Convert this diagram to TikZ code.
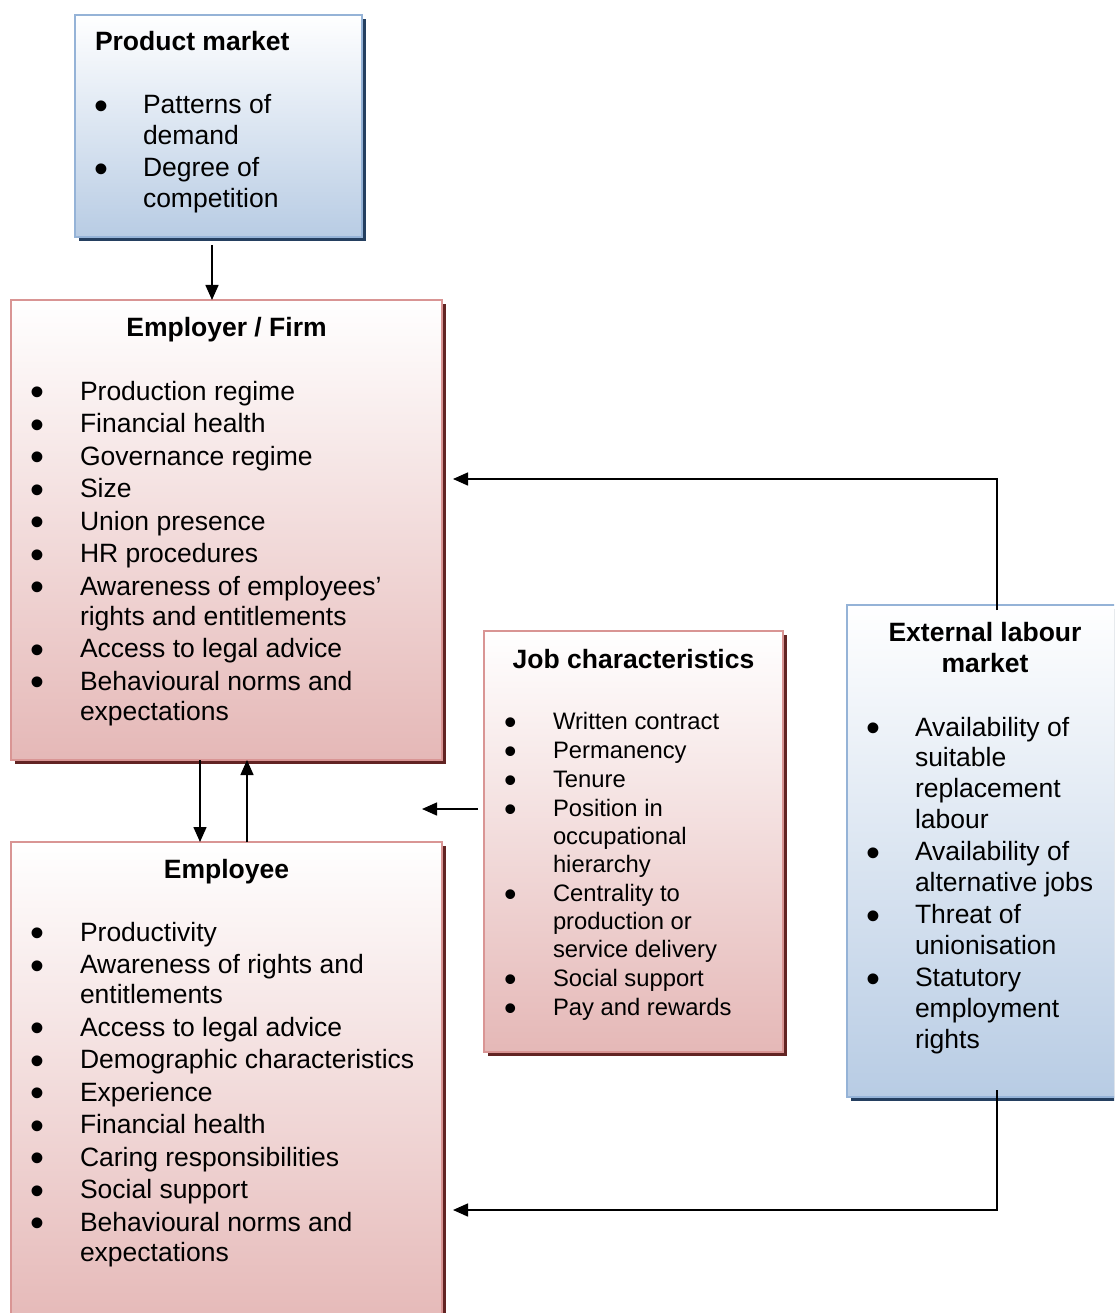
\documentclass[tikz,border=0pt]{standalone}
\usepackage{fontspec}
\setmainfont{Liberation Sans}
\usepackage{array}
\usepackage{graphicx}
\usetikzlibrary{shadows,arrows.meta}
\definecolor{redbot}{HTML}{E5B8B7}
\definecolor{redline}{HTML}{D99594}
\definecolor{redshadow}{HTML}{622423}
\definecolor{bluebot}{HTML}{B8CCE4}
\definecolor{blueline}{HTML}{95B3D7}
\definecolor{blueshadow}{HTML}{243F60}
\newcommand\bigf{\fontsize{26.5}{30.3}\selectfont}
\newcommand\extf{\fontsize{26.5}{30.8}\selectfont}
\newcommand\jobf{\fontsize{23.8}{28}\selectfont}
\newcommand\bul{\hspace*{-0.07em}\smash{\raisebox{-0.21em}{\scalebox{1.5}{\textbullet}}}}
\begin{document}
\begin{tikzpicture}[x=1pt,y=-1pt,
  redbox/.style={draw=redline, line width=2pt, top color=white, bottom color=redbot,
    drop shadow={shadow xshift=4pt, shadow yshift=-4pt, fill=redshadow, opacity=1},
    inner sep=0, outer sep=0},
  bluebox/.style={draw=blueline, line width=2pt, top color=white, bottom color=bluebot,
    drop shadow={shadow xshift=4pt, shadow yshift=-4pt, fill=blueshadow, opacity=1},
    inner sep=0, outer sep=0},
  txt/.style={inner sep=0, outer sep=0, anchor=base west},
  ttl/.style={inner sep=0, outer sep=0, anchor=base, font=\bigf\bfseries, align=center},
  arr/.style={line width=1.5pt, -{Triangle[width=13pt,length=15pt]}}
]
\useasboundingbox (0,0) rectangle (1114,1313);
\clip (0,0) rectangle (1114,1313);

% boxes
\node[bluebox, minimum width=287pt, minimum height=222pt] (prod) at (218.5,126) {};
\node[redbox, minimum width=431pt, minimum height=460pt] (emp) at (226.5,530) {};
\node[redbox, minimum width=431pt, minimum height=488pt] (empl) at (226.5,1086) {};
\node[redbox, minimum width=299pt, minimum height=421pt] (job) at (633.5,841.5) {};
\node[bluebox, minimum width=283pt, minimum height=492pt] (ext) at (988.5,851) {};

% product market
\node[txt, font=\bigf\bfseries] (prodt) at (95,51) {Product market};
\node[txt] (prodl) at (96.4,114) {\bigf\begin{tabular}[t]{@{}p{46.6pt}@{}l@{}}
\bul & Patterns of\\ & demand\\[2.2pt]
\bul & Degree of\\ & competition
\end{tabular}};

% employer
\node[ttl] (empt) at (226.5,336) {Employer / Firm};
\node[txt] (empli) at (32.4,400) {\bigf\begin{tabular}[t]{@{}p{47.6pt}@{}l@{}}
\bul & Production regime\\[2.2pt]
\bul & Financial health\\[2.2pt]
\bul & Governance regime\\[2.2pt]
\bul & Size\\[2.2pt]
\bul & Union presence\\[2.2pt]
\bul & HR procedures\\[2.2pt]
\bul & Awareness of employees’\\ & rights and entitlements\\[2.2pt]
\bul & Access to legal advice\\[2.2pt]
\bul & Behavioural norms and\\ & expectations
\end{tabular}};

% employee
\node[ttl] (emplt) at (226.5,878) {Employee};
\node[txt] (emplli) at (32.4,941) {\bigf\begin{tabular}[t]{@{}p{47.6pt}@{}l@{}}
\bul & Productivity\\[2.2pt]
\bul & Awareness of rights and\\ & entitlements\\[2.2pt]
\bul & Access to legal advice\\[2.2pt]
\bul & Demographic characteristics\\[2.2pt]
\bul & Experience\\[2.2pt]
\bul & Financial health\\[2.2pt]
\bul & Caring responsibilities\\[2.2pt]
\bul & Social support\\[2.2pt]
\bul & Behavioural norms and\\ & expectations
\end{tabular}};

% job characteristics
\node[ttl] (jobt) at (633.5,668) {Job characteristics};
\node[txt] (jobli) at (505.8,729) {\jobf\begin{tabular}[t]{@{}p{47.2pt}@{}l@{}}
\bul & Written contract\\[1pt]
\bul & Permanency\\[1pt]
\bul & Tenure\\[1pt]
\bul & Position in\\ & occupational\\ & hierarchy\\[1pt]
\bul & Centrality to\\ & production or\\ & service delivery\\[1pt]
\bul & Social support\\[1pt]
\bul & Pay and rewards
\end{tabular}};

% external labour market
\node[ttl, font=\extf\bfseries] (extt) at (985,672) {External labour\\market};
\node[txt] (extli) at (868.4,736) {\extf\begin{tabular}[t]{@{}p{46.6pt}@{}l@{}}
\bul & Availability of\\ & suitable\\ & replacement\\ & labour\\[1.5pt]
\bul & Availability of\\ & alternative jobs\\[1.5pt]
\bul & Threat of\\ & unionisation\\[1.5pt]
\bul & Statutory\\ & employment\\ & rights
\end{tabular}};

% connectors
\draw[arr] ([xshift=-6.5pt,yshift=-8pt]prod.south) -- ([xshift=-14.5pt]emp.north);
\draw[arr] ([xshift=-26.5pt]emp.south) -- ([xshift=-26.5pt]empl.north);
\draw[arr] ([xshift=20.5pt]empl.north) -- ([xshift=20.5pt]emp.south);
\draw[arr] ([xshift=-6pt,yshift=32.5pt]job.west) -- ([xshift=-62pt,yshift=32.5pt]job.west);
\draw[arr] ([xshift=8.5pt,yshift=-5pt]ext.north) |- ([xshift=11pt,yshift=51pt]emp.east);
\draw[arr] ([xshift=8.5pt,yshift=7pt]ext.south) |- ([xshift=11pt,yshift=-124pt]empl.east);
\end{tikzpicture}
\end{document}
